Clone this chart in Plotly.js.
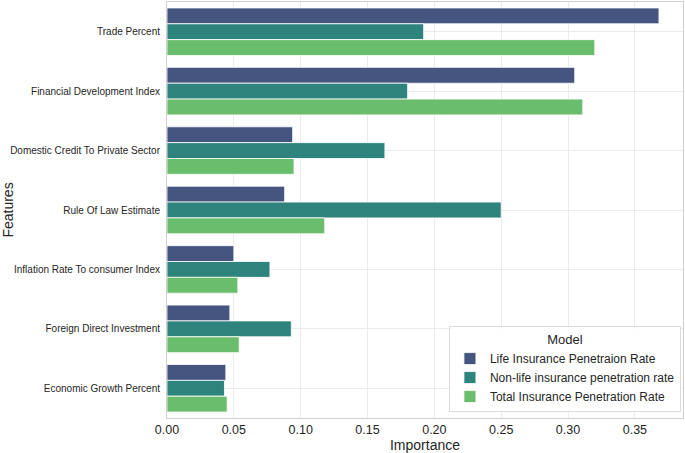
<!DOCTYPE html>
<html>
<head>
<meta charset="utf-8">
<script src="https://cdn.plot.ly/plotly-3.0.1.min.js"></script>
<style>html,body{margin:0;padding:0;background:#fff;}#chart{width:685px;height:453px;}</style>
</head>
<body>
<div id="chart"></div>
<script>
const features = ["Trade Percent","Financial Development Index","Domestic Credit To Private Sector","Rule Of Law Estimate","Inflation Rate To consumer Index","Foreign Direct Investment","Economic Growth Percent"];
const seriesNames = ["Life Insurance Penetraion Rate","Non-life insurance penetration rate","Total Insurance Penetration Rate"];
const lifeValues = [0.368, 0.305, 0.094, 0.088, 0.050, 0.047, 0.044];
const nonLifeValues = [0.192, 0.180, 0.163, 0.250, 0.077, 0.093, 0.043];
const totalValues = [0.320, 0.311, 0.095, 0.118, 0.053, 0.054, 0.045];
const xTicks = [0, 0.05, 0.10, 0.15, 0.20, 0.25, 0.30, 0.35];

const colors = ["#45557f", "#2e837d", "#6abd6c"];
const allValues = [lifeValues, nonLifeValues, totalValues];
const traces = allValues.map((vals, i) => ({
  type: "bar", orientation: "h",
  x: vals, y: features, name: seriesNames[i],
  marker: {color: colors[i], line: {color: "rgba(255,255,255,0.8)", width: 1}}
}));

const layout = {
  width: 685, height: 453,
  margin: {l: 167, r: 2, t: 2, b: 35},
  paper_bgcolor: "#fff", plot_bgcolor: "#fff",
  barmode: "group", bargap: 0.2, bargroupgap: 0,
  font: {family: "Liberation Sans, Arial, sans-serif", color: "#262626"},
  xaxis: {
    range: [0, 0.386], tickvals: xTicks, tickformat: ".2f",
    showgrid: true, gridcolor: "#ebebeb", gridwidth: 1,
    zeroline: false, showline: true, linecolor: "#d0d0d0", mirror: true,
    ticks: "", tickfont: {size: 12.5, color: "#262626"},
    title: {text: "Importance", font: {size: 14, color: "#262626"}, standoff: 4}
  },
  yaxis: {
    autorange: "reversed", type: "category",
    showgrid: true, gridcolor: "#ebebeb", gridwidth: 1,
    zeroline: false, showline: true, linecolor: "#d0d0d0", mirror: true,
    ticks: "", ticklen: 0, ticklabelstandoff: 4, tickfont: {size: 10, color: "#262626"},
    title: {text: "Features", font: {size: 14, color: "#262626"}, standoff: 4}
  },
  legend: {
    x: 0.996, xanchor: "right", y: 0.014, yanchor: "bottom",
    bgcolor: "rgba(255,255,255,0.9)", bordercolor: "#dcdcdc", borderwidth: 1,
    font: {size: 12, color: "#262626"},
    title: {text: "Model", side: "top center", font: {size: 13, color: "#262626"}},
    traceorder: "normal", tracegroupgap: 0, itemwidth: 30
  },
  showlegend: true
};

Plotly.newPlot("chart", traces, layout, {displayModeBar: false, staticPlot: true});
</script>
</body>
</html>
